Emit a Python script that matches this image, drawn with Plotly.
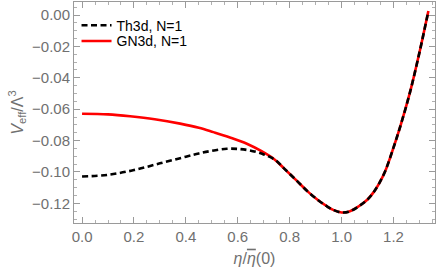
import plotly.graph_objects as go

# Shared part of both curves (beyond the kink at eta ~ 0.744)
eta_tail = [0.78, 0.827, 0.87, 0.91, 0.943, 0.97, 1.0, 1.03, 1.065, 1.1, 1.123,
            1.145, 1.168, 1.2, 1.2254, 1.264, 1.3025, 1.3345]
v_tail = [-0.0980, -0.1055, -0.1125, -0.1180, -0.1218, -0.1243, -0.1258, -0.1252,
          -0.1220, -0.1175, -0.1130, -0.1072, -0.0995, -0.0845, -0.0714, -0.0490,
          -0.0221, 0.0025]

# Th3d, N=1 (black dashed), before the kink
eta_th_head = [0.0, 0.1, 0.2, 0.3, 0.4, 0.45, 0.5, 0.558, 0.6, 0.647, 0.7, 0.744]
v_th_head = [-0.1029, -0.1018, -0.0988, -0.0945, -0.0903, -0.0882, -0.0865,
             -0.0852, -0.0853, -0.0863, -0.0888, -0.0923]

# GN3d, N=1 (red solid), before the kink
eta_gn_head = [0.0, 0.1, 0.185, 0.28, 0.378, 0.45, 0.506, 0.57, 0.635, 0.69, 0.744]
v_gn_head = [-0.0629, -0.0633, -0.0645, -0.0664, -0.0692, -0.0718, -0.0746,
             -0.0780, -0.0820, -0.0866, -0.0923]

eta_th = eta_th_head + eta_tail
v_th = v_th_head + v_tail
eta_gn = eta_gn_head + eta_tail
v_gn = v_gn_head + v_tail

x_ticks = [0.0, 0.2, 0.4, 0.6, 0.8, 1.0, 1.2]
y_ticks = [0.00, -0.02, -0.04, -0.06, -0.08, -0.10, -0.12]

FONT = "Liberation Sans, Arial, sans-serif"

fig = go.Figure()
fig.add_trace(go.Scatter(x=eta_gn, y=v_gn, mode="lines", name="GN3d, N=1",
                         line=dict(color="#ff0000", width=2.6, shape="spline", smoothing=1.0),
                         legend="legend2"))
fig.add_trace(go.Scatter(x=eta_th, y=v_th, mode="lines", name="Th3d, N=1",
                         line=dict(color="#000000", width=2.6, dash="6px,3.5px",
                                   shape="spline", smoothing=1.0),
                         legend="legend"))

axis_common = dict(
    showgrid=False, zeroline=False, showline=True, linecolor="#9a9a9a", linewidth=1,
    mirror="allticks", ticks="inside", ticklen=6, tickwidth=1, tickcolor="#9a9a9a",
    tickfont=dict(family=FONT, size=15, color="#707070"), automargin=False,
)

fig.update_xaxes(
    range=[-0.031, 1.36], tickvals=x_ticks, tickformat=".1f",
    minor=dict(ticks="inside", ticklen=3, tickcolor="#b0b0b0", dtick=0.05, tick0=0),
    title=dict(text="<i>η</i>/<span style='text-decoration:overline'><i>η</i></span>(0)",
               font=dict(family=FONT, size=16, color="#707070"),
               standoff=8),
    **axis_common)
fig.update_yaxes(
    range=[-0.1325, 0.0083], tickvals=y_ticks, tickformat=".2f",
    minor=dict(ticks="inside", ticklen=3, tickcolor="#b0b0b0", dtick=0.005, tick0=0),
    title=dict(text="<i>V</i><sub>eff</sub>/Λ<sup>3</sup>",
               font=dict(family=FONT, size=16, color="#707070"),
               standoff=4),
    **axis_common)

legend_common = dict(xanchor="left", yanchor="middle",
                     bgcolor="rgba(0,0,0,0)", borderwidth=0,
                     font=dict(family=FONT, size=14, color="#000000"),
                     itemwidth=30)

fig.update_layout(
    width=436, height=276,
    margin=dict(l=74, r=1, t=2, b=53),
    paper_bgcolor="white", plot_bgcolor="white",
    showlegend=True,
    legend=dict(x=0.007, y=0.893, **legend_common),
    legend2=dict(x=0.007, y=0.822, **legend_common),
)

fig.write_html("out.html", config={"displayModeBar": False},
               post_script="document.body.style.margin='0';")
